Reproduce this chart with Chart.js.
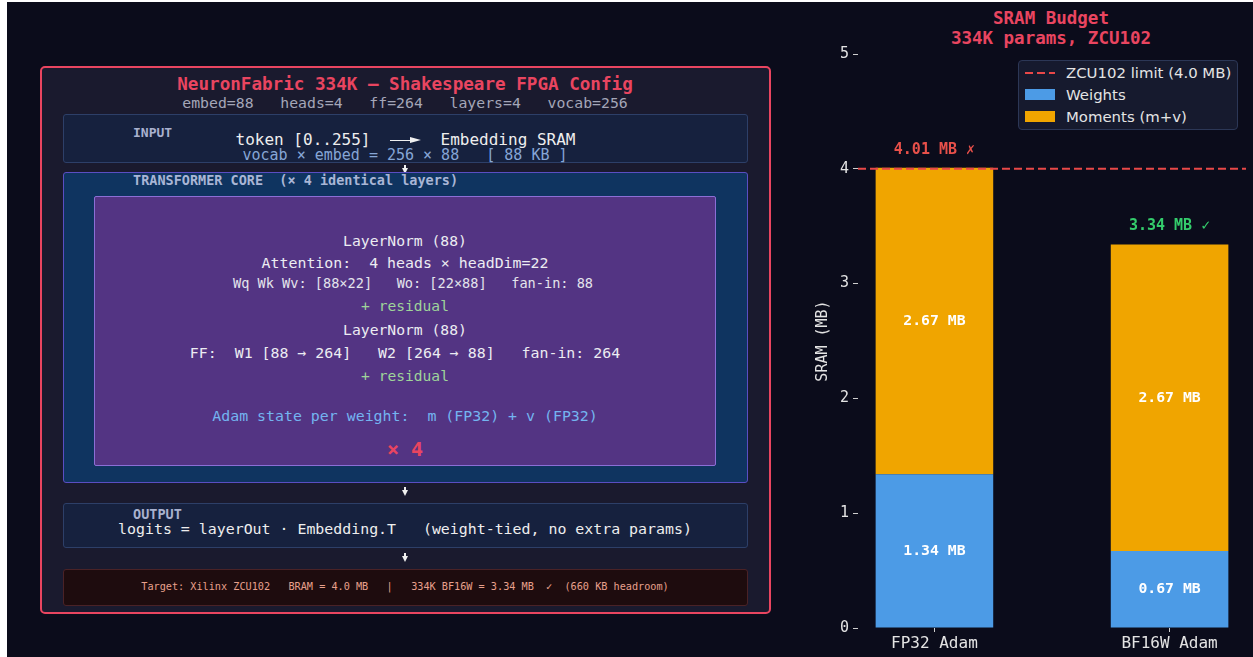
<!DOCTYPE html>
<html>
<head>
<meta charset="utf-8">
<script src="https://cdn.jsdelivr.net/npm/chart.js@4.4.1/dist/chart.umd.min.js"></script>
<style>
  html, body { margin: 0; padding: 0; background: #fff; width: 1253px; height: 657px; overflow: hidden; }
  #fig { position: absolute; left: 7px; top: 2px; width: 1246px; height: 655px; background: #0b0c1b; }
  .abs { position: absolute; }
  .t { position: absolute; transform: translate(-50%, -50%); white-space: pre; font-family: 'DejaVu Sans Mono', monospace; line-height: 1; }
  .lt { position: absolute; transform: translateY(-50%); white-space: pre; font-family: 'DejaVu Sans Mono', monospace; line-height: 1; }
  .box { position: absolute; box-sizing: border-box; border-radius: 3px; }
  .down { position: absolute; width: 0; height: 0; border-left: 3.5px solid transparent; border-right: 3.5px solid transparent; border-top: 6px solid #f0f0f0; }
  .stem { position: absolute; width: 1.5px; background: #f0f0f0; }
  #legend { position: absolute; left: 1018px; top: 60px; width: 220px; height: 70px; box-sizing: border-box; background: #161a2e; border: 1px solid #2c3756; border-radius: 4px; font-family: 'DejaVu Sans', sans-serif; font-size: 14.9px; color: #e4e4e4; }
  .lg { position: absolute; left: 47px; transform: translateY(-50%); white-space: nowrap; line-height: 1; }
</style>
</head>
<body>
<div id="fig"></div>
<div id="diagram"></div>
<div id="ctitle"></div>
<div class="abs" style="left:800px;top:0;width:453px;height:657px"><canvas id="sram"></canvas></div>
<div id="legend"></div>
<script>
// --- chart data ---
const CATEGORIES = ['FP32 Adam', 'BF16W Adam'];
const WEIGHTS_MB = [1.34, 0.67];
const MOMENTS_MB = [2.67, 2.67];
const LIMIT_MB = 4.0;
const Y_TICKS = [0, 1, 2, 3, 4, 5];
const SERIES_NAMES = ['Weights', 'Moments (m+v)'];
const LIMIT_NAME = 'ZCU102 limit (4.0 MB)';

// --- diagram text ---
const PARAMS_LINE = 'embed=88   heads=4   ff=264   layers=4   vocab=256';
const LAYER_LINES = [
  { x: 405, y: 241, s: 'LayerNorm (88)', c: '#ececf2', f: 14.7 },
  { x: 405, y: 263, s: 'Attention:  4 heads × headDim=22', c: '#ececf2', f: 14.9 },
  { x: 413, y: 284, s: 'Wq Wk Wv: [88×22]   Wo: [22×88]   fan-in: 88', c: '#e4e4ec', f: 13.6 },
  { x: 405, y: 306, s: '+ residual', c: '#9fd49a', f: 14.6 },
  { x: 405, y: 330, s: 'LayerNorm (88)', c: '#ececf2', f: 14.7 },
  { x: 405, y: 353, s: 'FF:  W1 [88 → 264]   W2 [264 → 88]   fan-in: 264', c: '#ececf2', f: 14.9 },
  { x: 405, y: 376, s: '+ residual', c: '#9fd49a', f: 14.6 },
  { x: 405, y: 416, s: 'Adam state per weight:  m (FP32) + v (FP32)', c: '#74b4f0', f: 14.9 },
];

const COL_W = '#4c9be6';
const COL_M = '#f0a500';
const COL_LIMIT = '#e84848';
const RED = '#e94560';

function txt(x, y, s, style, cls) {
  return `<div class="${cls || 't'}" style="left:${x}px;top:${y}px;${style}">${s}</div>`;
}
function arrowDown(x, y) {
  return `<div class="stem" style="left:${x - 0.75}px;top:${y - 5}px;height:4px"></div><div class="down" style="left:${x - 3.5}px;top:${y - 2}px"></div>`;
}

const cx = 405;
let html = '';
html += `<div class="box" style="left:40px;top:66px;width:731px;height:548px;background:#1a1a2e;border:2px solid ${RED};border-radius:5px"></div>`;
html += txt(cx, 85, 'NeuronFabric 334K — Shakespeare FPGA Config', `font-size:17.6px;font-weight:bold;color:${RED}`);
html += txt(cx, 103, PARAMS_LINE, 'font-size:14.8px;color:#a4a6b8');

// input
html += `<div class="box" style="left:63px;top:114px;width:685px;height:49px;background:#16213e;border:1px solid #2d3f68"></div>`;
html += txt(133, 132, 'INPUT', 'font-size:13px;font-weight:bold;color:#a9b1cf', 'lt');
html += txt(303, 140, 'token [0..255]', 'font-size:16px;color:#eeeeee');
html += `<div class="abs" style="left:390px;top:139.5px;width:22px;height:1.6px;background:#f0f0f0"></div><div class="abs" style="left:410px;top:136.5px;width:0;height:0;border-top:3.8px solid transparent;border-bottom:3.8px solid transparent;border-left:11px solid #f0f0f0"></div>`;
html += txt(508, 140, 'Embedding SRAM', 'font-size:16px;color:#eeeeee');
html += txt(cx, 155, 'vocab × embed = 256 × 88   [ 88 KB ]', 'font-size:15px;color:#86a6d6');
html += arrowDown(cx, 170);

// transformer core
html += `<div class="box" style="left:63px;top:172px;width:685px;height:311px;background:#0f3460;border:1.5px solid #5a4ec2"></div>`;
html += txt(133, 181, 'TRANSFORMER CORE  (× 4 identical layers)', 'font-size:13.5px;font-weight:bold;color:#a9b6d6', 'lt');
html += `<div class="box" style="left:94px;top:196px;width:622px;height:270px;background:#533483;border:1px solid #8c6ed6;border-radius:2px"></div>`;
LAYER_LINES.forEach(l => { html += txt(l.x, l.y, l.s, `font-size:${l.f}px;color:${l.c}`); });
html += txt(cx, 449, '× 4', `font-size:20px;font-weight:bold;color:${RED}`);
html += arrowDown(cx, 492);

// output
html += `<div class="box" style="left:63px;top:503px;width:685px;height:45px;background:#16213e;border:1px solid #2d3f68"></div>`;
html += txt(133, 515, 'OUTPUT', 'font-size:13.5px;font-weight:bold;color:#a9b1cf', 'lt');
html += txt(cx, 529, 'logits = layerOut · Embedding.T   (weight-tied, no extra params)', 'font-size:14.9px;color:#eeeeee');
html += arrowDown(cx, 558);

// target
html += `<div class="box" style="left:63px;top:569px;width:685px;height:37px;background:#1e0c0e;border:1px solid #4a2226"></div>`;
html += txt(cx, 587, 'Target: Xilinx ZCU102   BRAM = 4.0 MB   |   334K BF16W = 3.34 MB  ✓  (660 KB headroom)', 'font-size:10.2px;color:#e8a08c');
document.getElementById('diagram').innerHTML = html;

// chart title
document.getElementById('ctitle').innerHTML =
  txt(1051, 19, 'SRAM Budget', `font-size:17.5px;font-weight:bold;color:${RED}`) +
  txt(1051, 39, '334K params, ZCU102', `font-size:17.5px;font-weight:bold;color:${RED}`);

// legend
document.getElementById('legend').innerHTML = `
  <div class="abs" style="left:6px;top:11px;width:30px;height:2px;background:repeating-linear-gradient(90deg, ${COL_LIMIT} 0 8px, transparent 8px 12px)"></div>
  <div class="lg" style="top:12px">${LIMIT_NAME}</div>
  <div class="abs" style="left:6px;top:28px;width:30px;height:11px;background:${COL_W}"></div>
  <div class="lg" style="top:34px">${SERIES_NAMES[0]}</div>
  <div class="abs" style="left:6px;top:50px;width:30px;height:11px;background:${COL_M}"></div>
  <div class="lg" style="top:56px">${SERIES_NAMES[1]}</div>`;

const mono = "'DejaVu Sans Mono', monospace";

const labelPlugin = {
  id: 'labels',
  afterDatasetsDraw(chart) {
    const { ctx, chartArea, scales } = chart;
    const yLim = scales.y.getPixelForValue(LIMIT_MB);
    ctx.save();
    ctx.strokeStyle = COL_LIMIT;
    ctx.lineWidth = 2;
    ctx.setLineDash([8, 4]);
    ctx.beginPath();
    ctx.moveTo(chartArea.left, yLim);
    ctx.lineTo(chartArea.right, yLim);
    ctx.stroke();
    ctx.setLineDash([]);

    ctx.textAlign = 'center';
    ctx.textBaseline = 'middle';
    ctx.font = `bold 14.8px ${mono}`;
    ctx.fillStyle = '#ffffff';
    chart.data.datasets.forEach((ds, di) => {
      chart.getDatasetMeta(di).data.forEach((bar, i) => {
        ctx.fillText(ds.data[i].y.toFixed(2) + ' MB', bar.x, (bar.y + bar.base) / 2);
      });
    });

    ctx.font = `bold 15px ${mono}`;
    const top = chart.getDatasetMeta(1).data;
    CATEGORIES.forEach((c, i) => {
      const total = WEIGHTS_MB[i] + MOMENTS_MB[i];
      const over = total > LIMIT_MB;
      ctx.fillStyle = over ? '#e8504a' : '#34cc6c';
      ctx.fillText(total.toFixed(2) + ' MB ' + (over ? '✗' : '✓'), top[i].x, scales.y.getPixelForValue(total) - 18);
    });
    ctx.restore();
  }
};

new Chart(document.getElementById('sram'), {
  type: 'bar',
  data: {
    datasets: [
      { label: SERIES_NAMES[0], data: WEIGHTS_MB.map((v, i) => ({ x: i, y: v })), backgroundColor: COL_W },
      { label: SERIES_NAMES[1], data: MOMENTS_MB.map((v, i) => ({ x: i, y: v })), backgroundColor: COL_M },
    ]
  },
  options: {
    responsive: true,
    maintainAspectRatio: false,
    animation: false,
    layout: { padding: { top: 54, right: 7, left: 0, bottom: 0 } },
    datasets: { bar: { categoryPercentage: 0.5, barPercentage: 1.0, borderWidth: 0 } },
    plugins: { legend: { display: false }, tooltip: { enabled: false } },
    scales: {
      x: {
        type: 'linear', stacked: true, offset: false,
        min: -0.325, max: 1.325,
        afterBuildTicks: s => { s.ticks = CATEGORIES.map((c, i) => ({ value: i })); },
        afterFit: s => { s.height = 29; },
        ticks: { callback: v => CATEGORIES[v], color: '#e4e4e4', font: { family: mono, size: 16 }, padding: 2, maxRotation: 0, autoSkip: false },
        grid: { offset: false, drawOnChartArea: false, drawTicks: true, tickLength: 4, color: '#cfcfcf' },
        border: { display: false },
      },
      y: {
        stacked: true, min: 0, max: 5,
        afterBuildTicks: s => { s.ticks = Y_TICKS.map(v => ({ value: v })); },
        afterFit: s => { s.width = 58; },
        ticks: { color: '#e4e4e4', font: { family: mono, size: 15 }, padding: 4 },
        grid: { offset: false, drawOnChartArea: false, drawTicks: true, tickLength: 5, color: '#cfcfcf' },
        border: { display: false },
        title: { display: true, text: 'SRAM (MB)', color: '#e4e4e4', font: { family: mono, size: 15 }, padding: { top: 14, bottom: 0 } },
      },
    },
  },
  plugins: [labelPlugin],
});
</script>
</body>
</html>
